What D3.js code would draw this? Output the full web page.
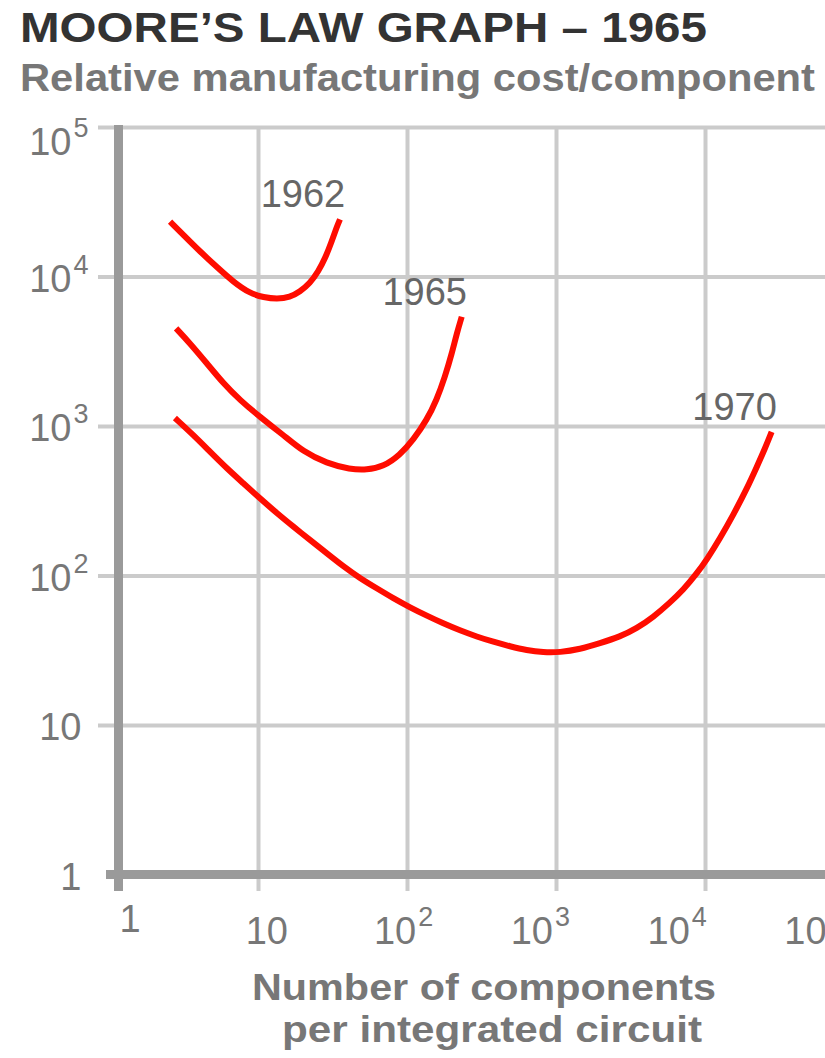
<!DOCTYPE html>
<html>
<head>
<meta charset="utf-8">
<script src="https://cdn.jsdelivr.net/npm/d3@7"></script>
<style>
  html, body { margin: 0; padding: 0; background: #fff; }
  svg { display: block; }
</style>
</head>
<body>
<script>
// ---- chart text ----
const titleText = "MOORE\u2019S LAW GRAPH \u2013 1965";
const subtitleText = "Relative manufacturing cost/component";
const xTitleLines = ["Number of components", "per integrated circuit"];

// ---- tick values and their labels (base + superscript exponent) ----
const tickValues = [1, 10, 100, 1000, 10000, 100000];
const tickBase   = ["1", "10", "10", "10", "10", "10"];
const tickSup    = ["", "", "2", "3", "4", "5"];
const gridXValues = [10, 100, 1000, 10000];
const gridYValues = [10, 100, 1000, 10000, 100000];

// ---- cost-per-component curves: [components per IC, relative cost] ----
const curveYears = ["1962", "1965", "1970"];
const curve1962 = [
  [2.57, 23300], [3.15, 19000], [4.08, 14700], [5.28, 11600], [6.83, 9200],
  [8.84, 7700], [10.9, 7260], [13.4, 7070], [16.4, 7260], [19.1, 7900],
  [22.3, 9000], [25.4, 10800], [28.2, 13200], [31.2, 17100], [33.8, 21500],
  [35.5, 24100]
];
const curve1965 = [
  [2.82, 4500], [3.50, 3570], [4.53, 2630], [5.85, 1930], [7.57, 1490],
  [10.3, 1150], [14.8, 871], [20.1, 673], [28.9, 563], [41.5, 513],
  [53.7, 508], [69.3, 534], [89.7, 640], [110, 806], [136, 1100],
  [158, 1490], [180, 2140], [200, 3060], [216, 4170], [233, 5380]
];
const curve1970 = [
  [2.77, 1130], [3.68, 871], [4.76, 673], [6.17, 521], [7.97, 414],
  [10.3, 328], [13.4, 261], [17.3, 212], [22.3, 173], [28.9, 141],
  [37.4, 115], [48.4, 95.8], [62.6, 82.1], [80.9, 70.4], [105, 61.1],
  [136, 53.8], [175, 47.8], [227, 42.9], [294, 39.0], [380, 36.0],
  [491, 33.6], [636, 31.6], [822, 30.6], [1060, 30.6], [1450, 32.1],
  [1970, 35.2], [2690, 39.0], [3480, 44.3], [4500, 52.7], [5820, 65.9],
  [7150, 80.2], [8800, 103], [10300, 128], [12600, 177], [15500, 255],
  [19100, 381], [22200, 529], [25300, 709], [28000, 913]
];
const curves = [curve1962, curve1965, curve1970];

// ---- layout ----
const W = 825, H = 1058;
const axisX = 118.5;       // vertical axis line
const gridLeft = 98;       // horizontal grid lines start a little left of the axis
const gridBottom = 891;    // vertical lines run slightly below the x axis

const x = d3.scaleLog().domain([1, 1e5]).range([109, 854]);
const y = d3.scaleLog().domain([1, 1e5]).range([874.5, 127]);
// tick labels sit on a slightly tighter spacing than the grid
const xLabel = d3.scaleLog().domain([1, 1e5]).range([130, 814]);

const svg = d3.select("body").append("svg")
  .attr("width", W).attr("height", H)
  .style("font-family", "'Liberation Sans', Arial, Helvetica, sans-serif");

// ---- titles ----
svg.append("text")
  .attr("x", 20).attr("y", 42)
  .attr("font-size", 42).attr("font-weight", "bold").attr("fill", "#333")
  .attr("textLength", 687).attr("lengthAdjust", "spacingAndGlyphs")
  .text(titleText);

svg.append("text")
  .attr("x", 20).attr("y", 91)
  .attr("font-size", 38).attr("font-weight", "bold").attr("fill", "#777")
  .attr("textLength", 795).attr("lengthAdjust", "spacingAndGlyphs")
  .text(subtitleText);

// ---- grid ----
const gridColor = "#cbcbcb";

const gx = svg.append("g")
  .attr("transform", `translate(0,${gridBottom})`)
  .call(d3.axisBottom(x).tickValues(gridXValues)
    .tickSize(-(gridBottom - y(1e5))).tickFormat(""));
gx.select(".domain").remove();
gx.selectAll(".tick line").attr("stroke", gridColor).attr("stroke-width", 4);

const gy = svg.append("g")
  .attr("transform", `translate(${gridLeft},0)`)
  .call(d3.axisRight(y).tickValues(gridYValues)
    .tickSize(W - gridLeft).tickFormat(""));
gy.select(".domain").remove();
gy.selectAll(".tick line").attr("stroke", gridColor).attr("stroke-width", 4);

// ---- axis lines ----
const axisColor = "#9a9a9a";
svg.append("line")
  .attr("x1", axisX).attr("x2", axisX)
  .attr("y1", y(1e5) - 2).attr("y2", gridBottom)
  .attr("stroke", axisColor).attr("stroke-width", 9);
svg.append("line")
  .attr("x1", 106).attr("x2", W)
  .attr("y1", y(1)).attr("y2", y(1))
  .attr("stroke", axisColor).attr("stroke-width", 9);

// ---- tick labels ----
const tickColor = "#777";
function addLabel(g, i) {
  g.append("tspan").text(tickBase[i]);
  if (tickSup[i]) {
    g.append("tspan").attr("font-size", 27).attr("dx", 2).attr("dy", -18).text(tickSup[i]);
  }
}

// y axis
tickValues.forEach((v, i) => {
  const t = svg.append("text")
    .attr("font-size", 38).attr("fill", tickColor)
    .attr("text-anchor", "end")
    .attr("x", tickSup[i] ? axisX - 30 : axisX - 37)
    .attr("y", y(v) + 15 + (v === 1e5 ? 13 : 0));
  addLabel(t, i);
});

// x axis (the last label runs off the right edge)
tickValues.forEach((v, i) => {
  const t = svg.append("text")
    .attr("font-size", 38).attr("fill", tickColor)
    .attr("text-anchor", "middle")
    .attr("x", xLabel(v))
    .attr("y", 944 - (v === 1 ? 12 : 0));
  addLabel(t, i);
});

// x axis title
xTitleLines.forEach((line, i) => {
  svg.append("text")
    .attr("x", i === 0 ? 484 : 492).attr("y", i === 0 ? 1000 : 1042)
    .attr("text-anchor", "middle")
    .attr("font-size", 37).attr("font-weight", "bold").attr("fill", "#777")
    .attr("textLength", i === 0 ? 464 : 420).attr("lengthAdjust", "spacingAndGlyphs")
    .text(line);
});

// ---- curves ----
const line = d3.line()
  .x(d => x(d[0]))
  .y(d => y(d[1]))
  .curve(d3.curveBasis);

curves.forEach((data, i) => {
  svg.append("path")
    .datum(data)
    .attr("d", line)
    .attr("fill", "none")
    .attr("stroke", "#ff0c00")
    .attr("stroke-width", 6)
    .attr("stroke-linejoin", "round");

  const last = data[data.length - 1];
  svg.append("text")
    .attr("x", x(last[0]) - 37)
    .attr("y", y(last[1]) - 12)
    .attr("text-anchor", "middle")
    .attr("font-size", 38).attr("fill", "#666")
    .text(curveYears[i]);
});
</script>
</body>
</html>
